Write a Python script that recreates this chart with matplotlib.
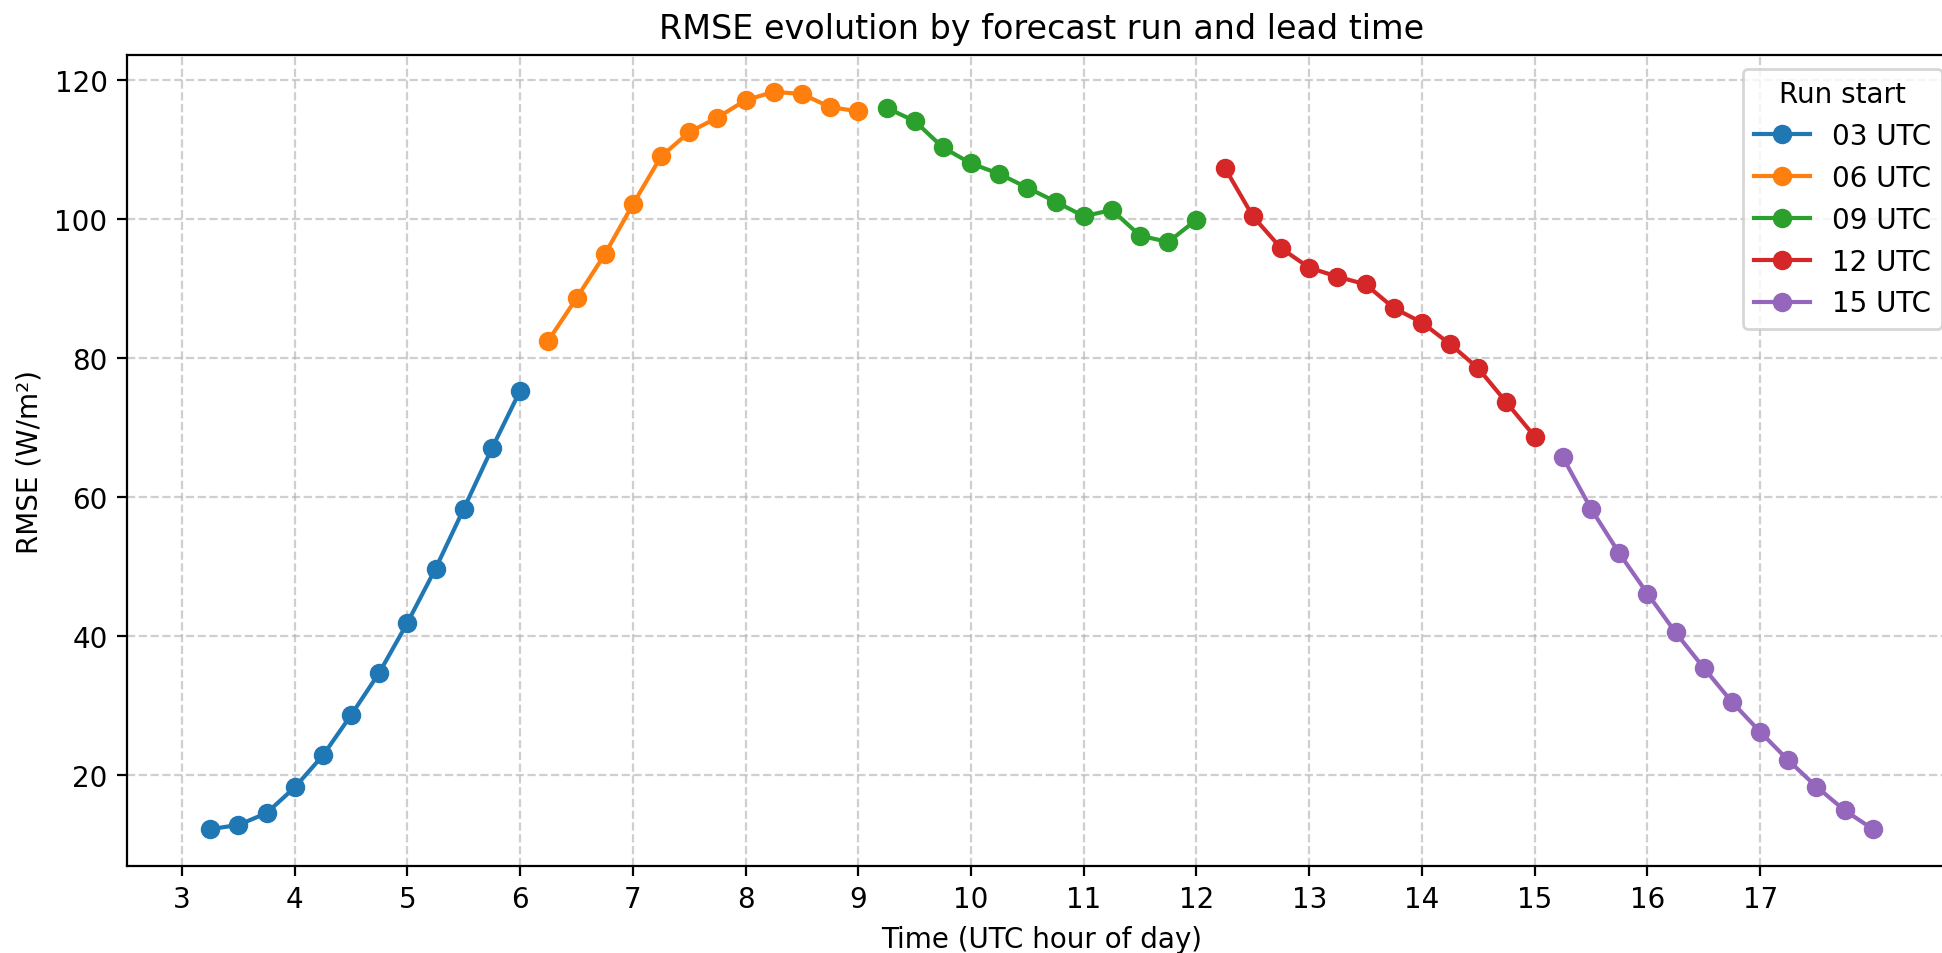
import numpy as np
import matplotlib
matplotlib.use("Agg")
import matplotlib.pyplot as plt

# forecast runs and their RMSE per 15-minute lead step
runs = ["03 UTC", "06 UTC", "09 UTC", "12 UTC", "15 UTC"]
run_hours = [3, 6, 9, 12, 15]

rmse_03 = [12.2, 12.8, 14.5, 18.2, 22.8, 28.6, 34.7, 41.9, 49.7, 58.3, 67.0, 75.3]
rmse_06 = [82.5, 88.6, 94.9, 102.1, 109.0, 112.5, 114.6, 117.1, 118.3, 118.0, 116.1, 115.5]
rmse_09 = [116.0, 114.1, 110.3, 108.0, 106.5, 104.5, 102.5, 100.4, 101.3, 97.6, 96.7, 99.9]
rmse_12 = [107.4, 100.4, 95.8, 93.0, 91.7, 90.6, 87.2, 85.1, 82.0, 78.5, 73.6, 68.7]
rmse_15 = [65.7, 58.3, 51.9, 46.1, 40.5, 35.4, 30.5, 26.2, 22.1, 18.3, 14.9, 12.2]
rmse_all = [rmse_03, rmse_06, rmse_09, rmse_12, rmse_15]

lead_steps = [0.25, 0.5, 0.75, 1.0, 1.25, 1.5, 1.75, 2.0, 2.25, 2.5, 2.75, 3.0]

DPI = 200
fig = plt.figure(figsize=(1942 / DPI, 954 / DPI), dpi=DPI)
# right edge of the axes sits just past the figure edge, like the original
ax = fig.add_axes([127 / 1942, 1 - 867 / 954, (1956 - 127) / 1942, (867 - 56) / 954])

for name, start, vals in zip(runs, run_hours, rmse_all):
    times = [start + s for s in lead_steps]
    ax.plot(times, vals, marker="o", label=name)

ax.set_xticks(np.arange(3, 18))
ax.set_title("RMSE evolution by forecast run and lead time")
ax.set_xlabel("Time (UTC hour of day)")
ax.set_ylabel("RMSE (W/m²)")
ax.grid(True, linestyle="--", alpha=0.6)
ax.legend(title="Run start", loc="upper right")

fig.savefig("out.png", dpi=DPI)
